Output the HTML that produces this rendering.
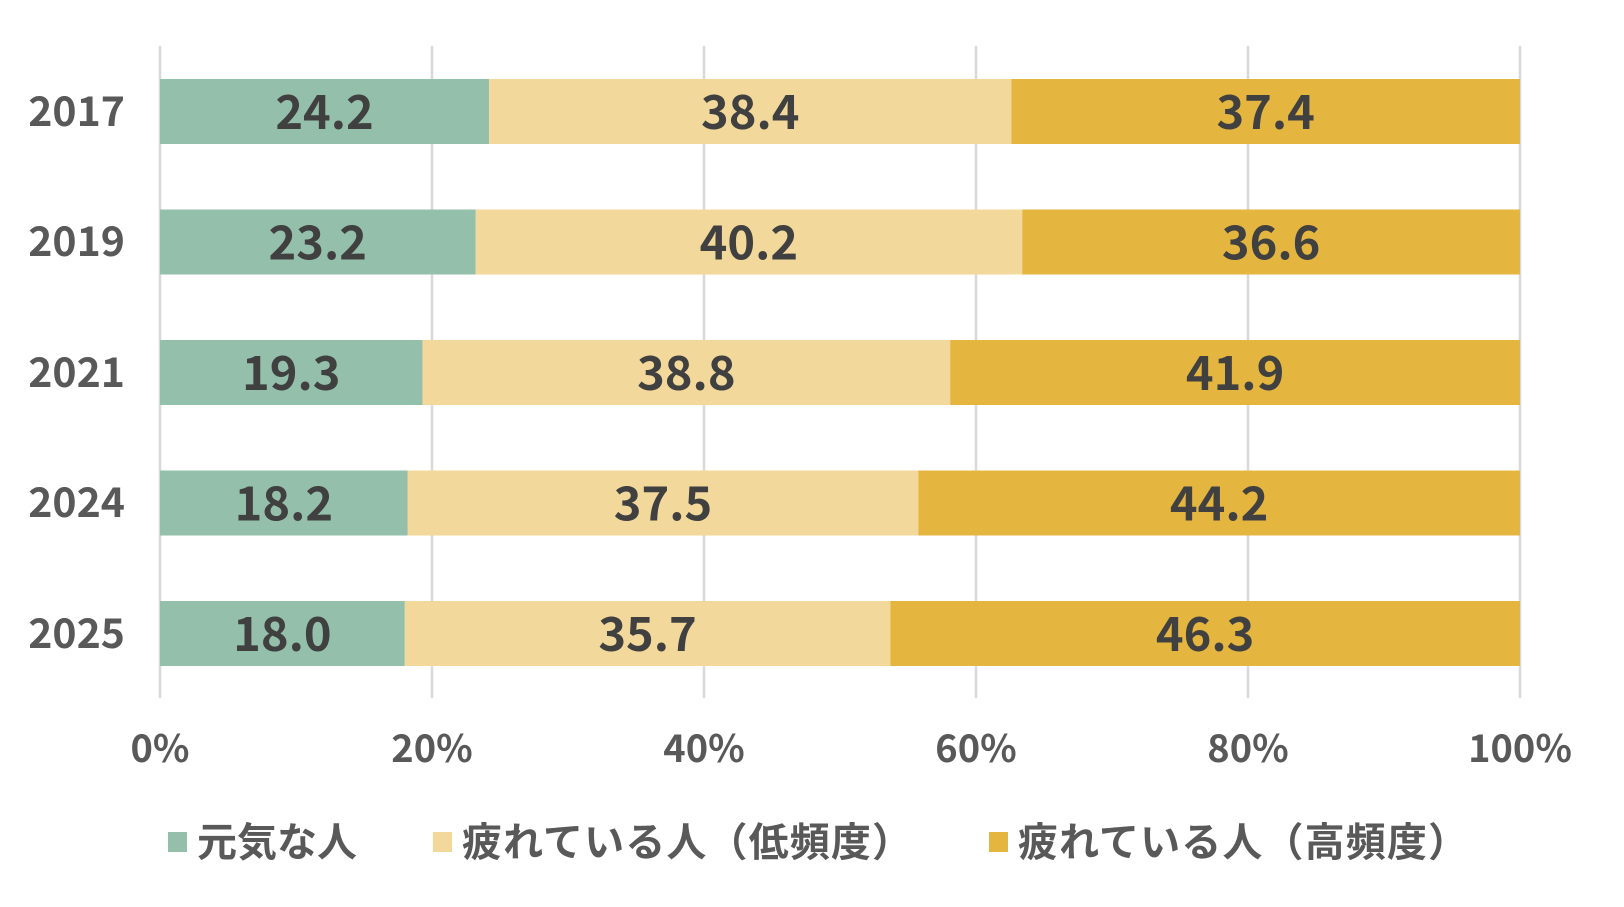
<!DOCTYPE html>
<html><head><meta charset="utf-8"><style>
html,body{margin:0;padding:0;background:#fff;}
svg{display:block;}
</style></head><body>
<svg width="1624" height="907" viewBox="0 0 1624 907" xmlns="http://www.w3.org/2000/svg" font-family="Noto Sans CJK JP, Liberation Sans, sans-serif">
<g stroke="#d9d9d9" stroke-width="2.5">
<line x1="160" y1="46" x2="160" y2="698"/>
<line x1="432" y1="46" x2="432" y2="698"/>
<line x1="704" y1="46" x2="704" y2="698"/>
<line x1="976" y1="46" x2="976" y2="698"/>
<line x1="1248" y1="46" x2="1248" y2="698"/>
<line x1="1520" y1="46" x2="1520" y2="698"/>
</g>
<g id="bars"></g>
<g font-size="38" fill="#595959" text-anchor="middle" font-weight="bold">
<text x="160" y="762">0%</text>
<text x="432" y="762">20%</text>
<text x="704" y="762">40%</text>
<text x="976" y="762">60%</text>
<text x="1248" y="762">80%</text>
<text x="1520" y="762">100%</text>
</g>
<g font-size="41" fill="#595959" font-weight="bold" text-anchor="end">
<text x="125" y="126">2017</text>
<text x="125" y="256">2019</text>
<text x="125" y="387">2021</text>
<text x="125" y="517">2024</text>
<text x="125" y="648">2025</text>
</g>
<rect x="168" y="832" width="19" height="20" fill="#93bfab"/>
<rect x="433" y="832" width="19" height="20" fill="#f2d99b"/>
<rect x="989" y="832" width="19" height="20" fill="#e4b640"/>
<g font-size="40" fill="#595959" font-weight="bold">
<text x="197" y="856">元気な人</text>
<text x="462" y="856" textLength="450">疲れている人（低頻度）</text>
<text x="1018" y="856" textLength="450">疲れている人（高頻度）</text>
</g>
<script>
const d=[[24.2,38.4,37.4],[23.2,40.2,36.6],[19.3,38.8,41.9],[18.2,37.5,44.2],[18.0,35.7,46.3]];
const cols=["#93bfab","#f2d99b","#e4b640"];
const g=document.getElementById("bars");
const ns="http://www.w3.org/2000/svg";
const W=1360;
d.forEach((r,i)=>{
 const y=79+i*130.5;let x=160;
 const tot=r[0]+r[1]+r[2];
 r.forEach((v,j)=>{
  const w=v/tot*W;
  const re=document.createElementNS(ns,"rect");
  re.setAttribute("x",x);re.setAttribute("y",y);re.setAttribute("width",w);re.setAttribute("height",65);re.setAttribute("fill",cols[j]);
  g.appendChild(re);
  const t=document.createElementNS(ns,"text");
  t.setAttribute("x",x+w/2);t.setAttribute("y",y+50);t.setAttribute("text-anchor","middle");
  t.setAttribute("font-size","47");t.setAttribute("font-weight","bold");t.setAttribute("fill","#404040");
  t.textContent=v.toFixed(1);
  g.appendChild(t);
  x+=w;
 });
});
</script>
</svg>
</body></html>
